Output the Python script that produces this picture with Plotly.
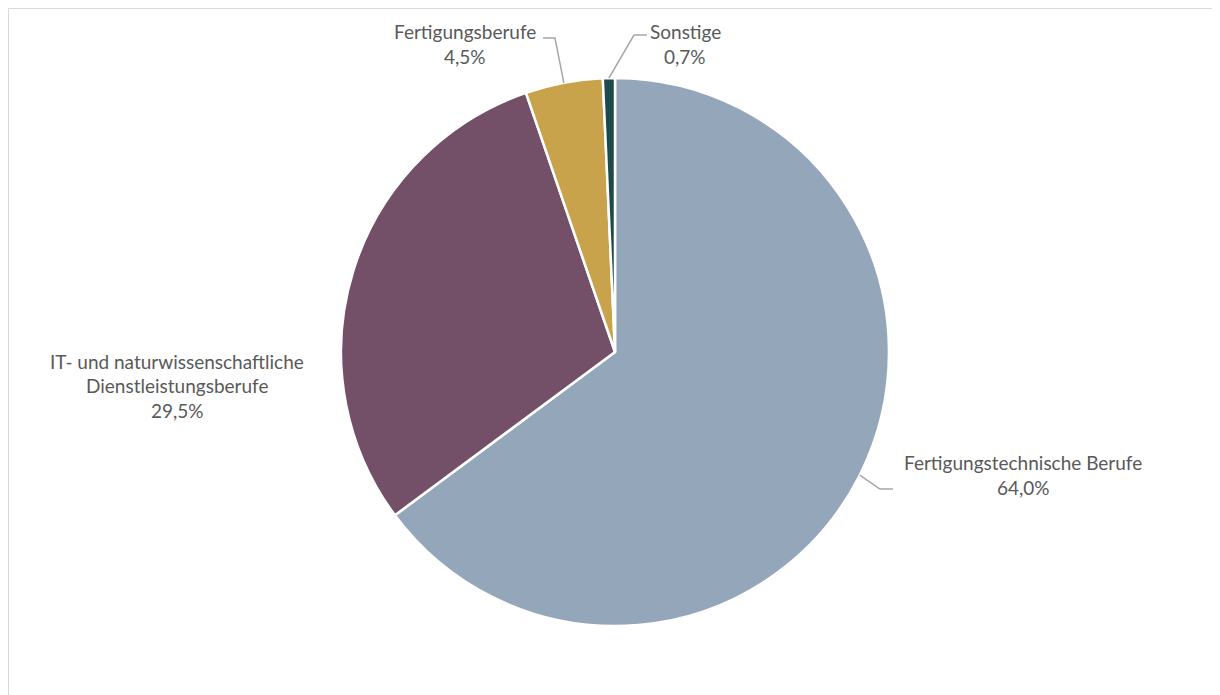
import math
import plotly.graph_objects as go

categories = ["Fertigungstechnische Berufe",
              "IT- und naturwissenschaftliche<br>Dienstleistungsberufe",
              "Fertigungsberufe",
              "Sonstige"]
values = [64.0, 29.5, 4.5, 0.7]
colors = ["#94A7BA", "#734F68", "#C9A34C", "#1E4A4B"]

W, H = 1220, 695
OFF = 8  # page body margin
CX, CY, R = 615, 352, 274

def px(x):
    return (x - OFF) / W

def py(y):
    return 1 - (y - OFF) / H

fig = go.Figure(go.Pie(
    labels=[c.replace("<br>", " ") for c in categories],
    values=values,
    sort=False,
    direction="clockwise",
    rotation=0,
    marker=dict(colors=colors, line=dict(color="white", width=2.5)),
    textinfo="none",
    hoverinfo="label+percent",
    showlegend=False,
    domain=dict(x=[px(CX - R), px(CX + R)], y=[py(CY + R), py(CY - R)]),
))

# label placement in pixels: text centre x, first line centre y, line step, leader path after edge point
label_layout = [
    dict(cx=1023, y0=462, step=25.5, leader=[(880, 489), (893, 489)]),
    dict(cx=177, y0=361, step=24.5, leader=None),
    dict(cx=465, y0=32, step=24.5, leader=[(555, 38), (543, 38)]),
    dict(cx=685, y0=32, step=24.5, leader=[(634, 35), (647, 35)]),
]

total = sum(values)
font = dict(family="Lato, Open Sans, sans-serif", size=19, color="#595959")
annotations = []
shapes = []
start = 0.0
for cat, val, lay in zip(categories, values, label_layout):
    frac = val / total
    mid = (start + frac / 2) * 2 * math.pi
    start += frac
    ex = CX + R * math.sin(mid)
    ey = CY - R * math.cos(mid)
    lines = cat.split("<br>") + [f"{val:.1f}".replace(".", ",") + "%"]
    for i, t in enumerate(lines):
        annotations.append(dict(
            x=px(lay["cx"]), y=py(lay["y0"] + lay["step"] * i), xref="paper", yref="paper",
            text=t, showarrow=False, xanchor="center", yanchor="middle", font=font))
    if lay["leader"]:
        pts = [(ex, ey)] + lay["leader"]
        path = "M " + " L ".join(f"{px(x)},{py(y)}" for x, y in pts)
        shapes.append(dict(type="path", path=path, xref="paper", yref="paper",
                           line=dict(color="#A6A6A6", width=1.5)))

# outer chart border (drawn at the figure's own top/left edge)
shapes.append(dict(type="rect", xref="paper", yref="paper",
                   x0=px(OFF + 0.5), x1=px(1218.5), y0=py(730), y1=py(OFF + 0.5),
                   line=dict(color="#D9D9D9", width=1)))

fig.update_layout(
    width=W, height=H,
    margin=dict(l=0, r=0, t=0, b=0),
    paper_bgcolor="white", plot_bgcolor="white",
    annotations=annotations, shapes=shapes,
)

fig.write_html("out.html")
